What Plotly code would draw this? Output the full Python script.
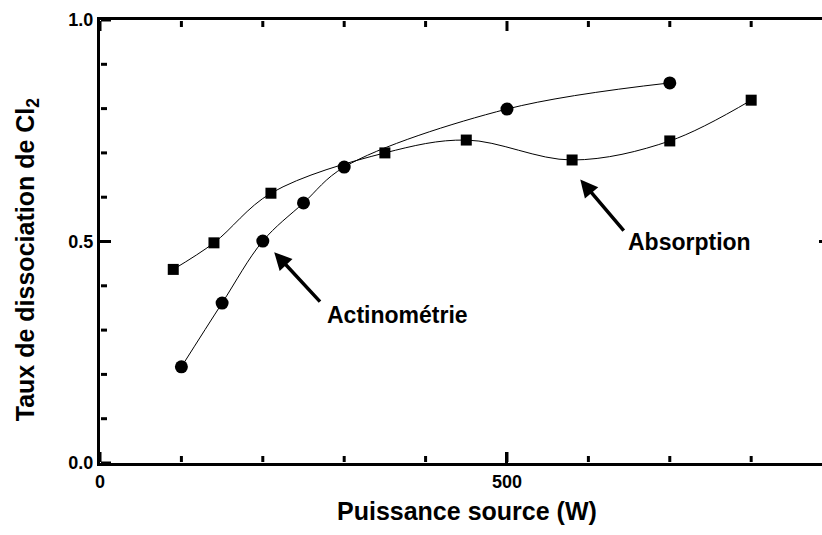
import plotly.graph_objects as go

# Data
act_x = [100, 150, 200, 250, 300, 500, 700]
act_y = [0.217, 0.361, 0.501, 0.587, 0.668, 0.799, 0.858]

abs_x = [90, 140, 210, 350, 450, 580, 700, 800]
abs_y = [0.437, 0.497, 0.609, 0.700, 0.729, 0.684, 0.727, 0.819]

# Tick values
x_major = [0, 500]
x_minor = [100, 200, 300, 400, 600, 700, 800]
y_major = [0.0, 0.5, 1.0]
y_minor = [0.1, 0.2, 0.3, 0.4, 0.6, 0.7, 0.8, 0.9]

FONT = "Arial, 'Liberation Sans', sans-serif"

fig = go.Figure()
fig.add_trace(go.Scatter(
    x=act_x, y=act_y, mode="lines+markers", name="Actinométrie",
    line=dict(color="black", width=1, shape="spline", smoothing=1.0),
    marker=dict(symbol="circle", size=13, color="black"),
))
fig.add_trace(go.Scatter(
    x=abs_x, y=abs_y, mode="lines+markers", name="Absorption",
    line=dict(color="black", width=1, shape="spline", smoothing=1.0),
    marker=dict(symbol="square", size=11, color="black"),
))

# Tick marks drawn as pixel-sized shapes anchored to the axes
tick = dict(color="black", width=3)
for v in x_major + x_minor:
    L = 11 if v in x_major else 7
    fig.add_shape(type="line", xref="x", yref="paper", ysizemode="pixel",
                  yanchor=0, x0=v, x1=v, y0=1, y1=L, line=tick, layer="above")
    fig.add_shape(type="line", xref="x", yref="paper", ysizemode="pixel",
                  yanchor=1, x0=v, x1=v, y0=-1, y1=-L, line=tick, layer="above")
for v in y_major + y_minor:
    L = 11 if v in y_major else 7
    fig.add_shape(type="line", xref="paper", yref="y", xsizemode="pixel",
                  xanchor=0, x0=1, x1=L, y0=v, y1=v, line=tick, layer="above")
# fragment of the right-hand axis tick at 0.5
fig.add_shape(type="line", xref="paper", yref="y", xsizemode="pixel",
              xanchor=1, x0=-3, x1=0, y0=0.5, y1=0.5, line=tick)

# Arrows
fig.add_annotation(x=214, y=0.476, ax=272, ay=0.361, xref="x", yref="y",
                   axref="x", ayref="y", text="", showarrow=True,
                   arrowhead=2, arrowsize=1.0, arrowwidth=3.5, arrowcolor="black")
fig.add_annotation(x=590, y=0.640, ax=645, ay=0.521, xref="x", yref="y",
                   axref="x", ayref="y", text="", showarrow=True,
                   arrowhead=2, arrowsize=1.0, arrowwidth=3.5, arrowcolor="black")
# Labels
fig.add_annotation(x=276, y=0.334, xref="x", yref="y", text="Actinométrie",
                   showarrow=False, xanchor="left", yanchor="middle",
                   font=dict(family=FONT, size=23, color="black", weight="bold"))
fig.add_annotation(x=646, y=0.499, xref="x", yref="y", text="Absorption",
                   showarrow=False, xanchor="left", yanchor="middle",
                   font=dict(family=FONT, size=23, color="black", weight="bold"))

# Axis titles
fig.add_annotation(x=0, y=0.46, xref="paper", yref="paper", xshift=-73,
                   text="Taux de dissociation de Cl<sub>2</sub>", textangle=-90,
                   showarrow=False, xanchor="center", yanchor="middle",
                   font=dict(family=FONT, size=25, color="black", weight="bold"))
fig.add_annotation(x=0.509, y=0, xref="paper", yref="paper", yshift=-48,
                   text="Puissance source (W)",
                   showarrow=False, xanchor="center", yanchor="middle",
                   font=dict(family=FONT, size=25, color="black", weight="bold"))

fig.update_layout(
    width=822, height=535,
    margin=dict(l=100, r=0, t=20, b=72),
    plot_bgcolor="white", paper_bgcolor="white",
    showlegend=False,
    font=dict(family=FONT, color="black"),
)
fig.update_xaxes(
    range=[0, 887], automargin=False, showgrid=False, zeroline=False,
    showline=True, linecolor="black", linewidth=3, mirror=True,
    ticks="inside", ticklen=11, tickwidth=3, tickcolor="black",
    tickmode="array", tickvals=x_major, ticktext=[str(v) for v in x_major],
    tickfont=dict(family=FONT, size=18, color="black", weight="bold"),
)
fig.update_yaxes(
    range=[0, 1.0], automargin=False, showgrid=False, zeroline=False,
    showline=True, linecolor="black", linewidth=3,
    ticks="inside", ticklen=11, tickwidth=3, tickcolor="black",
    tickmode="array", tickvals=y_major, ticktext=[f"{v:.1f}" for v in y_major],
    tickfont=dict(family=FONT, size=18, color="black", weight="bold"),
)

fig.write_html("out.html", config={"displayModeBar": False},
               post_script="document.body.style.margin='0';document.body.style.overflow='hidden';")
